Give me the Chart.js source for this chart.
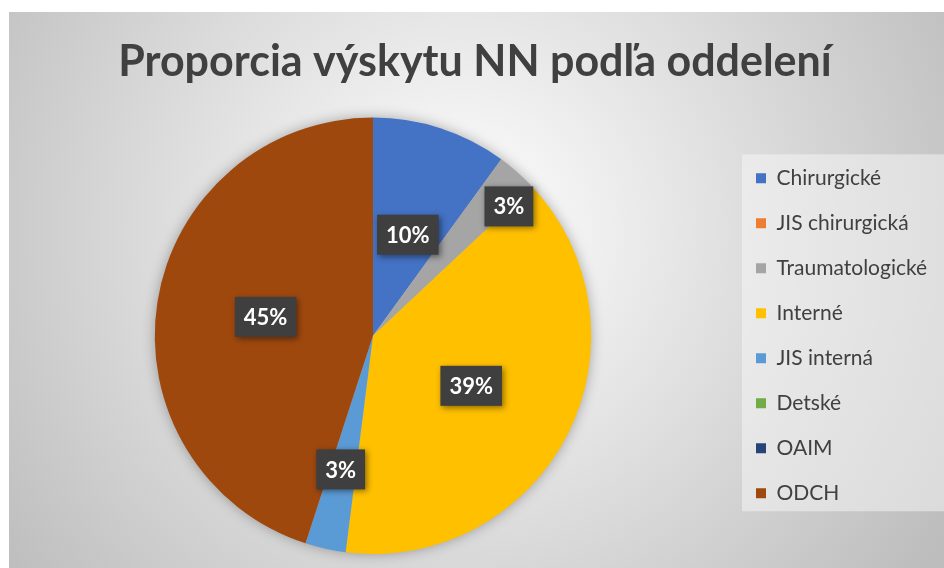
<!DOCTYPE html>
<html>
<head>
<meta charset="utf-8">
<script src="https://cdn.jsdelivr.net/npm/chart.js@4.4.1/dist/chart.umd.min.js"></script>
<style>
  html, body { margin: 0; padding: 0; background: #fff; }
</style>
</head>
<body>
<canvas id="grafico" width="944" height="568"></canvas>
<script>
const oddelenia = ["Chirurgické", "JIS chirurgická", "Traumatologické", "Interné", "JIS interná", "Detské", "OAIM", "ODCH"];
const podiely = [10, 0, 3, 39, 3, 0, 0, 45];
const farby = ["#4472C4", "#ED7D31", "#A5A5A5", "#FFC000", "#5B9BD5", "#70AD47", "#264478", "#9E480E"];

// kde sedia popisky: cast polomeru a posun uhla (stupne)
const popiskyPolomer = [0.49, 0, 0.86, 0.505, 0.63, 0, 0, 0.5];
const popiskyPosun = [1, 0, 5, 0, 1, 0, 0, 1];

const ctx = document.getElementById("grafico");

// sede pozadie s prechodom a svetly ramcek pod legendou
const pozadie = {
    id: "pozadie",
    beforeDraw(chart) {
        const c = chart.ctx;
        c.save();
        c.fillStyle = "#fff";
        c.fillRect(0, 0, chart.width, chart.height);
        const g = c.createRadialGradient(460, 230, 0, 460, 230, 570);
        g.addColorStop(0, "#ffffff");
        g.addColorStop(1, "#bdbdbd");
        c.fillStyle = g;
        c.fillRect(9, 12, chart.width - 9, chart.height - 12);

        const boxy = chart.legend.legendHitBoxes;
        if (boxy && boxy.length) {
            const prvy = boxy[0];
            const posl = boxy[boxy.length - 1];
            const hore = prvy.top + prvy.height / 2 - 24;
            const dole = posl.top + posl.height / 2 + 18;
            c.fillStyle = "rgba(248,248,248,0.5)";
            c.fillRect(prvy.left - 14, hore, chart.width - prvy.left + 14, dole - hore);
        }
        c.restore();
    }
};

// jemny tien okolo kolaca
const tien = {
    id: "tien",
    beforeDatasetsDraw(chart) {
        const arc = chart.getDatasetMeta(0).data[0];
        if (!arc) return;
        const c = chart.ctx;
        c.save();
        c.shadowColor = "rgba(0,0,0,0.35)";
        c.shadowBlur = 14;
        c.fillStyle = "#bbb";
        c.beginPath();
        c.arc(arc.x, arc.y, arc.outerRadius - 1, 0, Math.PI * 2);
        c.fill();
        c.restore();
    }
};

// percenta v tmavych stitkoch
const popisky = {
    id: "popisky",
    afterDatasetsDraw(chart) {
        const c = chart.ctx;
        const data = chart.data.datasets[0].data;
        const spolu = data.reduce((a, b) => a + b, 0);
        c.save();
        c.font = "bold 22px Lato";
        c.textAlign = "center";
        c.textBaseline = "middle";
        chart.getDatasetMeta(0).data.forEach((arc, i) => {
            if (!data[i]) return;
            const uhol = (arc.startAngle + arc.endAngle) / 2 + popiskyPosun[i] * Math.PI / 180;
            const d = arc.outerRadius * popiskyPolomer[i];
            const x = arc.x + Math.cos(uhol) * d;
            const y = arc.y + Math.sin(uhol) * d;
            const text = Math.round(data[i] / spolu * 100) + "%";
            const w = c.measureText(text).width + 18;
            const h = 40;
            c.save();
            c.shadowColor = "rgba(0,0,0,0.45)";
            c.shadowBlur = 6;
            c.shadowOffsetX = 2;
            c.shadowOffsetY = 2;
            c.fillStyle = "#3f3f3f";
            c.fillRect(x - w / 2, y - h / 2, w, h);
            c.restore();
            c.fillStyle = "#ffffff";
            c.fillText(text, x, y + 1);
        });
        c.restore();
    }
};

new Chart(ctx, {
    type: "pie",
    data: {
        labels: oddelenia,
        datasets: [{
            data: podiely,
            backgroundColor: farby,
            borderWidth: 0
        }]
    },
    options: {
        responsive: false,
        animation: false,
        layout: { padding: { top: 12, left: 14, right: 8, bottom: 14 } },
        plugins: {
            title: {
                display: true,
                text: "Proporcia výskytu NN podľa oddelení",
                color: "#404040",
                font: { family: "Lato", size: 43, weight: "bold" },
                padding: { top: 24, bottom: 30 }
            },
            legend: {
                position: "right",
                fullSize: false,
                maxWidth: 204,
                labels: {
                    boxWidth: 10,
                    boxHeight: 10,
                    padding: 24,
                    color: "#404040",
                    font: { family: "Lato", size: 21 }
                }
            },
            tooltip: { enabled: false }
        }
    },
    plugins: [pozadie, tien, popisky]
});
</script>
</body>
</html>
